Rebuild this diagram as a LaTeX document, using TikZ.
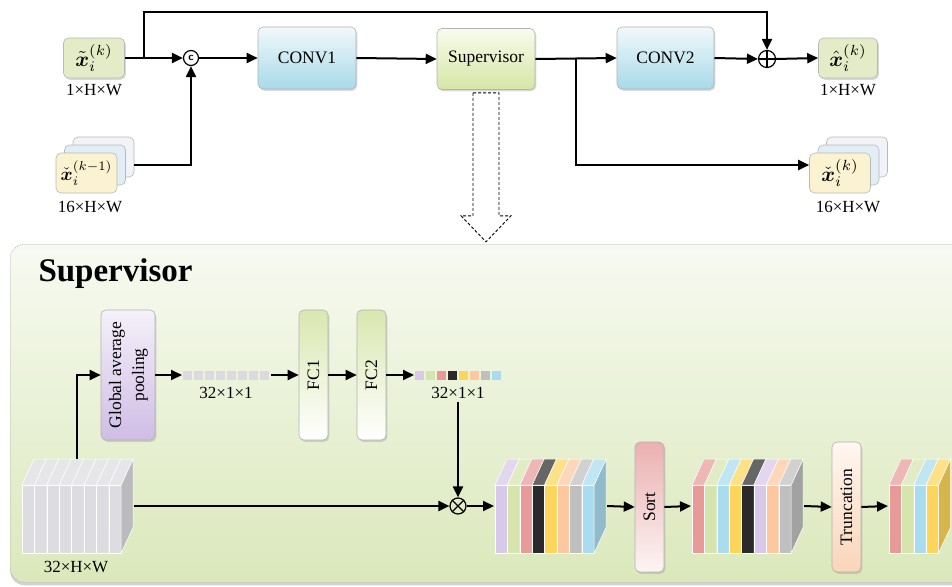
\documentclass[tikz,border=0pt]{standalone}
\usepackage{amsmath}
\usepackage{graphicx}
\usepackage{fontspec}
\setmainfont{Liberation Serif}
\usetikzlibrary{arrows.meta,shadows,calc}

% palette
\definecolor{inGreen}{HTML}{E3ECC6}
\definecolor{inYellow}{HTML}{FBF2D2}
\definecolor{inBlue}{HTML}{E1EEF5}
\definecolor{inLav}{HTML}{F2F2F9}
\definecolor{convTop}{HTML}{F1F8FB}
\definecolor{convBot}{HTML}{A8DAEA}
\definecolor{supTop}{HTML}{F8FBEC}
\definecolor{supBot}{HTML}{D6E6A6}
\definecolor{gapTop}{HTML}{F5F0FA}
\definecolor{gapBot}{HTML}{CFBDE5}
\definecolor{fcTop}{HTML}{D9E7AF}
\definecolor{sortTop}{HTML}{EBB0B0}
\definecolor{sortBot}{HTML}{FDF4F4}
\definecolor{truncTop}{HTML}{FFF7F0}
\definecolor{truncBot}{HTML}{FAD5B9}
\definecolor{panelTop}{HTML}{F7FAF1}
\definecolor{panelBot}{HTML}{DBE8BB}
\definecolor{cubeGray}{HTML}{DCDCE1}
\definecolor{vecGray}{HTML}{DADAE0}
\definecolor{sPurple}{HTML}{D8C8EA}
\definecolor{sGreen}{HTML}{D6E5AD}
\definecolor{sRed}{HTML}{E89A98}
\definecolor{sBlack}{HTML}{2A2A2A}
\definecolor{sYellow}{HTML}{FCD55A}
\definecolor{sPeach}{HTML}{FDC7A0}
\definecolor{sGray}{HTML}{BFBFBF}
\definecolor{sBlue}{HTML}{A9DCEE}

% slab geometry
\def\slabw{12.4}
\def\slabdx{12}
\def\slabdy{26}
\def\slabtop{485}
\def\slabbot{553}

% a row of coloured slabs: #1 left edge, #2 name, #3 count, #4 colours
\newcommand{\slabrow}[4]{%
  \foreach \c [count=\i from 0] in {#4} {
    \pgfmathsetmacro{\xa}{#1+\i*\slabw}
    \pgfmathsetmacro{\xb}{\xa+\slabw}
    \filldraw[draw=white, line width=0.5pt, fill=\c] (\xa,\slabtop) rectangle (\xb,\slabbot);
    \filldraw[draw=white, line width=0.5pt, fill=\c!72!white]
      (\xa,\slabtop) -- (\xb,\slabtop) -- ++(\slabdx,-\slabdy) -- ++(-\slabw,0) -- cycle;
    \filldraw[draw=white, line width=0.5pt, fill=\c!85!black]
      (\xb,\slabtop) -- ++(\slabdx,-\slabdy) -- ++(0,68) -- (\xb,\slabbot) -- cycle;
  }
  \coordinate (#2 west) at (#1-1,506);
  \coordinate (#2 east) at (#1+#3*\slabw+\slabdx+1,506);
}

% enlarged math for the tensor symbols
\newcommand{\bigsym}[2][2.1]{\scalebox{#1}{\fontsize{10}{12}\selectfont$#2$}}

\tikzset{
  arr/.style={-{Triangle[length=11pt,width=10pt]}, line width=2pt},
  shade/.style={drop shadow={opacity=0.3, shadow xshift=1.3pt, shadow yshift=-1.8pt}},
  blk/.style={rounded corners=5pt, draw=black!30, line width=0.6pt, shade, inner sep=0pt},
  xbox/.style={rounded corners=5pt, draw=black!28, line width=0.6pt, minimum width=61pt, minimum height=40pt, inner sep=0pt},
  tallbox/.style={blk, minimum width=29pt, minimum height=130pt},
  op/.style={circle, draw, line width=1.2pt, inner sep=0pt},
  dimlbl/.style={font=\fontsize{17}{20}\selectfont},
}

\begin{document}
\begin{tikzpicture}[x=1pt, y=-1pt, font=\fontsize{17.5}{21}\selectfont]
\useasboundingbox (0,0) rectangle (952,586);

% ---------- lower panel ----------
\node[anchor=north west, rounded corners=14pt, minimum width=975pt, minimum height=338pt,
      top color=panelTop, bottom color=panelBot, draw=black!30, line width=0.6pt,
      dash pattern=on 1pt off 1pt,
      drop shadow={opacity=0.35, shadow xshift=0pt, shadow yshift=-3pt}] (panel) at (10,244) {};
\node[anchor=west, font=\bfseries\fontsize{33}{36}\selectfont] (title) at (35,274) {Supervisor};

% ---------- upper row ----------
\node[xbox, fill=inGreen, shade] (xin) at (94,58) {\bigsym{\tilde{\boldsymbol{x}}_i^{(k)}}};
\node[dimlbl] (xinlbl) at (94,90) {1×H×W};

\node[xbox, fill=inLav] (xprev3) at (103.5,157) {};
\node[xbox, fill=inBlue] (xprev2) at (95,165) {};
\node[xbox, fill=inYellow] (xprev1) at (86.5,173) {\bigsym[1.85]{\check{\boldsymbol{x}}_i^{(k-1)}}};
\node[dimlbl] (xprevlbl) at (90,207) {16×H×W};

\node[op, minimum size=15pt] (cat) at (191,58) {\sffamily\bfseries\fontsize{11}{11}\selectfont c};

\node[blk, top color=convTop, bottom color=convBot, minimum width=98pt, minimum height=62pt] (conv1) at (307,58) {CONV1};
\node[blk, top color=supTop, bottom color=supBot, minimum width=98pt, minimum height=61pt] (sup) at (486,59) {Supervisor};
\node[blk, top color=convTop, bottom color=convBot, minimum width=97pt, minimum height=62pt] (conv2) at (665.5,58) {CONV2};

\node[op, minimum size=17pt] (add) at (767,59) {};
\draw[line width=1.2pt] (add.north) -- (add.south) (add.west) -- (add.east);

\node[xbox, fill=inGreen, shade, minimum width=59pt] (xhat) at (848,58) {\bigsym{\hat{\boldsymbol{x}}_i^{(k)}}};
\node[dimlbl] (xhatlbl) at (848,90) {1×H×W};

\node[xbox, fill=inLav] (xout3) at (857,157) {};
\node[xbox, fill=inBlue] (xout2) at (848.5,165) {};
\node[xbox, fill=inYellow] (xout1) at (840,173) {\bigsym{\check{\boldsymbol{x}}_i^{(k)}}};
\node[dimlbl] (xoutlbl) at (848,207) {16×H×W};

% upper connectors
\coordinate (split1) at (144,58);
\coordinate (skipy) at (0,12);
\coordinate (split2) at (576,58);
\draw[arr] (xin.east) -- (cat.west);
\draw[arr] (split1) |- (skipy -| add) -- (add.north);
\draw[arr] ($(xprev3.east)+(0,8)$) -| (cat.south);
\draw[arr] (cat.east) -- (conv1.west);
\draw[arr] (conv1.east) -- (sup.west);
\draw[arr] (sup.east) -- (conv2.west);
\draw[arr] (conv2.east) -- (add.west);
\draw[arr] (add.east) -- (xhat.west);
\draw[arr] (split2) |- ($(xout1.west)+(0,-8)$);

% hollow dashed arrow into the panel
\draw[line width=0.9pt, dash pattern=on 3pt off 2pt]
  ($(sup.south)+(-13,3)$) -- ++(0,123) -- ++(-12,0) -- ++(25,26) -- ++(25,-26)
  -- ++(-12,0) -- ++(0,-123) -- cycle;

% ---------- supervisor internals ----------
\slabrow{22}{cube}{8}{cubeGray,cubeGray,cubeGray,cubeGray,cubeGray,cubeGray,cubeGray,cubeGray}
\node[dimlbl] (cubelbl) at (76,567) {32×H×W};
\coordinate (cubetop) at (77,459);

\node[tallbox, top color=gapTop, bottom color=gapBot, minimum width=54pt] (gap) at (128,375)
  {\rotatebox{90}{\fontsize{17.5}{23}\selectfont\begin{tabular}{@{}c@{}}Global average\\pooling\end{tabular}}};

\foreach \i in {0,...,7} \fill[vecGray] (183+11*\i,370.5) rectangle ++(9,9);
\coordinate (vecA west) at (182,375);
\coordinate (vecA east) at (271,375);
\node[dimlbl] (vecAlbl) at (226,393) {32×1×1};

\node[tallbox, top color=fcTop, bottom color=white] (fc1) at (313.5,375) {\rotatebox{90}{FC1}};
\node[tallbox, top color=fcTop, bottom color=white] (fc2) at (371.5,375) {\rotatebox{90}{FC2}};

\foreach \c [count=\i from 0] in {sPurple,sGreen,sRed,sBlack,sYellow,sPeach,sGray,sBlue}
  \fill[\c] (415+11*\i,370.5) rectangle ++(9,9);
\coordinate (vecB west) at (414,375);
\node[dimlbl] (vecBlbl) at (458,393) {32×1×1};

\node[op, minimum size=16pt] (mul) at (458,506) {};
\draw[line width=1.2pt] (mul.north west) -- (mul.south east) (mul.north east) -- (mul.south west);

\slabrow{495}{chan}{8}{sPurple,sGreen,sRed,sBlack,sYellow,sPeach,sGray,sBlue}
\node[tallbox, top color=sortTop, bottom color=sortBot] (sort) at (649.5,507) {\rotatebox{90}{Sort}};
\slabrow{692}{sorted}{8}{sRed,sGreen,sBlue,sYellow,sBlack,sPurple,sPeach,sGray}
\node[tallbox, top color=truncTop, bottom color=truncBot] (trunc) at (846.5,507) {\rotatebox{90}{Truncation}};
\slabrow{889}{kept}{4}{sRed,sGreen,sBlue,sYellow}

% lower connectors
\draw[arr] (cubetop) |- (gap.west);
\draw[arr] (gap.east) -- (vecA west);
\draw[arr] (vecA east) -- (fc1.west);
\draw[arr] (fc1.east) -- (fc2.west);
\draw[arr] (fc2.east) -- (vecB west);
\draw[arr] (vecBlbl.south) -- (mul.north);
\draw[arr] (cube east) -- (mul.west);
\draw[arr] (mul.east) -- (chan west);
\draw[arr] (chan east) -- (sort.west);
\draw[arr] (sort.east) -- (sorted west);
\draw[arr] (sorted east) -- (trunc.west);
\draw[arr] (trunc.east) -- (kept west);
\end{tikzpicture}
\end{document}
